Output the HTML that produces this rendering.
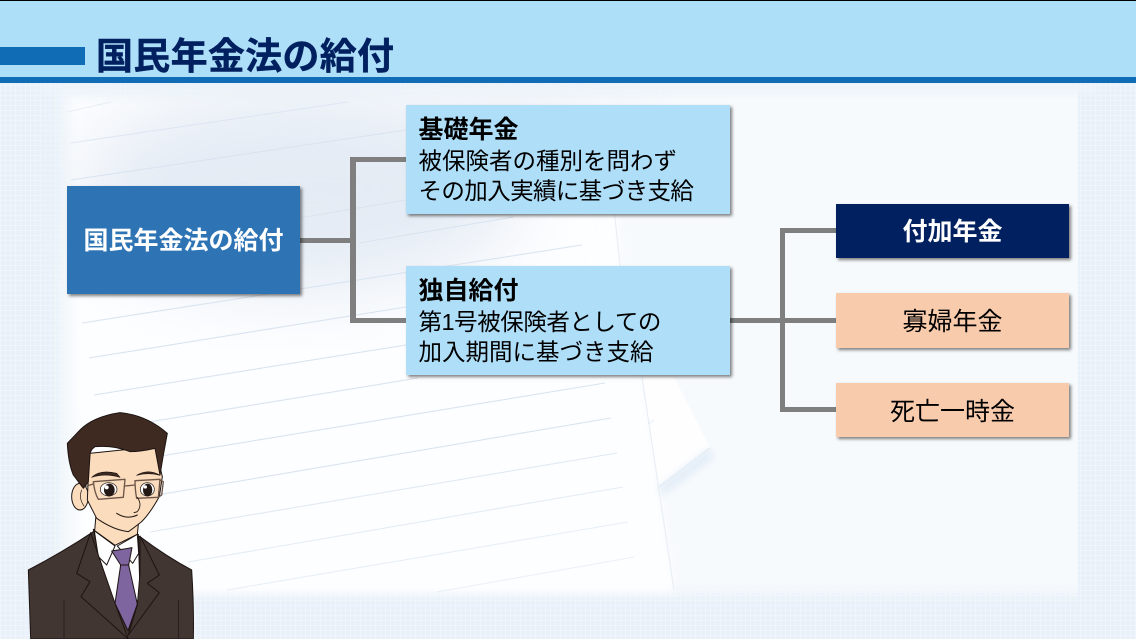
<!DOCTYPE html>
<html lang="ja">
<head>
<meta charset="utf-8">
<title>国民年金法の給付</title>
<style>
html,body{margin:0;padding:0}
body{width:1136px;height:639px;overflow:hidden;position:relative;background:#e9f2f9;font-family:"Liberation Sans","Noto Sans CJK JP",sans-serif}
svg{position:absolute;left:0;top:0}
.box{position:absolute;box-sizing:border-box;box-shadow:2px 2px 3px rgba(0,0,0,.5)}
.c{display:flex;align-items:center;justify-content:center;font-size:25px;line-height:1}
.t{font-size:23.5px;line-height:30.5px;color:#000;padding:10px 0 0 12.5px;white-space:nowrap}
.t b{font-size:25px}
.ln{position:absolute;background:#7f7f7f}
</style>
</head>
<body>
<svg width="1136" height="639" viewBox="0 0 1136 639">
  <defs>
    <pattern id="g" width="5" height="5" patternUnits="userSpaceOnUse">
      <rect width="5" height="5" fill="#e8f1f9"/>
      <path d="M0 .5H5M.5 0V5" stroke="#eff5fa" stroke-width="1"/>
    </pattern>
    <filter id="bl" x="-30%" y="-30%" width="160%" height="160%"><feGaussianBlur stdDeviation="40"/></filter>
    <filter id="bl2" x="-10%" y="-10%" width="120%" height="120%"><feGaussianBlur stdDeviation="6"/></filter>
    <filter id="bl3" x="-30%" y="-30%" width="160%" height="160%"><feGaussianBlur stdDeviation="4"/></filter>
    <clipPath id="inner"><rect x="40" y="84" width="1038" height="518"/></clipPath>
  </defs>
  <rect width="1136" height="639" fill="url(#g)"/>
  <g clip-path="url(#inner)">
    <rect x="62" y="92" width="1040" height="500" fill="#f7fafd" filter="url(#bl2)"/>
    <!-- sheet -->
    <path d="M72 100L612 100L620 265L642 377L674 592L80 592Z" fill="#fdfeff" filter="url(#bl3)"/>
    <path d="M642 377L674 377L710 448L659 487L668 540Z" fill="#fefeff"/>
    <path d="M659 487L710 448L714 458L662 496Z" fill="#c9dcef" opacity=".45" filter="url(#bl3)"/>
    <path d="M659 487L710 448" stroke="#e6eff8" stroke-width="2" fill="none"/>
    <!-- grey tone in upper-middle -->
    <ellipse cx="300" cy="190" rx="220" ry="100" fill="#e4ebf4" filter="url(#bl)"/>
    <ellipse cx="530" cy="120" rx="100" ry="35" fill="#ebf0f7" filter="url(#bl)"/>
    <path d="M612 190L620 265L642 377L674 590" fill="none" stroke="#eaeff6" stroke-width="1.2"/>
    <g fill="none" stroke="#d9e4f0" stroke-width="1.1">
      <path d="M67 112L111 102" opacity=".5"/>
      <path d="M71 143L348 102" opacity=".8"/>
      <path d="M71 180L406 130"/>
      <path d="M299 218L406 200"/>
      <path d="M359 243L513 217"/>
      <path d="M82 323L582 245"/>
      <path d="M89 358L406 307"/>
      <path d="M94 395L406 345"/>
      <path d="M100 430L418 378"/>
      <path d="M100 466L605 383"/>
      <path d="M110 503L611 418"/>
      <path d="M150 532L617 453" opacity=".8"/>
      <path d="M188 562L623 487" opacity=".7"/>
      <path d="M227 590L628 522" opacity=".6"/>
      <path d="M437 592L634 557" opacity=".5"/>
      <path d="M648 424L654 420" opacity=".6"/>
    </g>
  </g>
  <rect x="40" y="84" width="1060" height="10" fill="#eff5fa" opacity=".7" filter="url(#bl3)"/>
  <!-- header -->
  <rect width="1136" height="77" fill="#aedff9"/>
  <rect width="1136" height="1" fill="#000"/>
  <rect y="77" width="1136" height="6" fill="#0f6cb5"/>
  <rect y="47" width="85" height="18" fill="#0f6cb5"/>
  <!-- character -->
  <g transform="translate(0,400) scale(.33333)" stroke="#1d1412" stroke-width="3" stroke-linejoin="round" stroke-linecap="round">
    <path d="M85 510Q190 455 280 395L420 410Q500 470 575 510Q582 620 580 717L92 717Q88 600 85 510Z" fill="#423632"/>
    <path d="M280 388L415 403L420 580L385 692L340 600L300 480Z" fill="#fff"/>
    <path d="M288 345L284 392L345 436L412 403L418 345Z" fill="#fbdcbc"/>
    <path d="M283 392L345 438L320 495L295 470Z" fill="#fff"/>
    <path d="M412 403L352 438L398 490L416 460Z" fill="#fff"/>
    <path d="M335 453L396 443L386 495L362 495Z" fill="#7f659f"/>
    <path d="M362 495L386 495L412 612L384 692L345 610Z" fill="#7f659f"/>
    <path d="M272 398L230 520L270 545L243 590L385 717L345 610L300 480Z" fill="#423632"/>
    <path d="M420 408L478 525L442 550L478 578L385 705L412 615L420 520Z" fill="#423632"/>
    <ellipse cx="240" cy="290" rx="25" ry="40" fill="#fbdcbc"/>
    <path d="M245 270Q235 295 252 318" fill="none" stroke-width="2"/>
    <path d="M268 160L465 140L487 230L478 290Q450 340 425 365Q400 385 385 395Q340 390 290 355L262 300Z" fill="#fbdcbc"/>
    <path d="M202 130L240 90Q280 50 360 38Q440 45 502 100L490 165L480 225L465 145Q420 155 390 155Q340 135 285 140Q270 150 270 165L265 245L250 265L220 225Q205 190 202 130Z" fill="#3f2a22"/>
    <path d="M275 232Q300 208 350 220L360 232Q315 218 275 232Z" fill="#3f2a22" stroke-width="2"/>
    <path d="M410 226Q445 205 480 226Q445 216 410 226Z" fill="#3f2a22" stroke-width="2"/>
    <ellipse cx="326" cy="268" rx="25" ry="20" fill="#fff" stroke-width="2"/>
    <ellipse cx="442" cy="268" rx="21" ry="20" fill="#fff" stroke-width="2"/>
    <ellipse cx="328" cy="270" rx="16" ry="19" fill="#241815" stroke="none"/>
    <ellipse cx="443" cy="270" rx="14" ry="19" fill="#241815" stroke="none"/>
    <circle cx="320" cy="262" r="6" fill="#fff" stroke="none"/>
    <circle cx="436" cy="261" r="5" fill="#fff" stroke="none"/>
    <g fill="none" stroke="#6d5648" stroke-width="4">
      <path d="M280 245L375 238L370 292L295 298Q284 280 280 245Z"/>
      <path d="M405 242L480 238L475 292L410 295Q405 270 405 242Z"/>
      <path d="M375 258L405 255M280 252L260 258M480 240L490 245L485 285L475 292"/>
    </g>
    <path d="M412 292Q428 315 412 335L402 338" fill="none" stroke-width="2.5"/>
    <path d="M350 340Q380 360 412 345" fill="none" stroke-width="3"/>
    <path d="M192 600V717M535 600V717" fill="none" stroke-width="2"/>
  </g>
  <!-- title -->
  <text x="96" y="69" font-size="37" font-weight="700" fill="#002060" stroke="#002060" stroke-width=".4" font-family="'Liberation Sans','Noto Sans CJK JP',sans-serif" textLength="298" lengthAdjust="spacing">国民年金法の給付</text>
</svg>

<div class="ln" style="left:300px;top:238px;width:52px;height:5px"></div>
<div class="ln" style="left:350px;top:157px;width:6px;height:166px"></div>
<div class="ln" style="left:350px;top:157px;width:57px;height:5px"></div>
<div class="ln" style="left:350px;top:318px;width:57px;height:5px"></div>
<div class="ln" style="left:729px;top:318px;width:108px;height:5px"></div>
<div class="ln" style="left:780px;top:228px;width:5px;height:184px"></div>
<div class="ln" style="left:780px;top:228px;width:57px;height:5px"></div>
<div class="ln" style="left:780px;top:407px;width:57px;height:5px"></div>

<div class="box c" style="left:67px;top:186px;width:233px;height:108px;padding-top:2px;background:#2e74b5;color:#fff;font-weight:700">国民年金法の給付</div>
<div class="box t" style="left:406px;top:105px;width:324px;height:109px;background:#afdef9"><b>基礎年金</b><br>被保険者の種別を問わず<br><span style="letter-spacing:-.6px">その加入実績に基づき支給</span></div>
<div class="box t" style="left:406px;top:266px;width:324px;height:109px;background:#afdef9"><b>独自給付</b><br><span style="letter-spacing:-.45px">第1号被保険者としての</span><br>加入期間に基づき支給</div>
<div class="box c" style="left:836px;top:204px;width:233px;height:54px;padding-top:2px;background:#002060;color:#fff;font-weight:700">付加年金</div>
<div class="box c" style="left:836px;top:293px;width:233px;height:55px;padding-top:4px;background:#f8cbad;color:#000">寡婦年金</div>
<div class="box c" style="left:836px;top:383px;width:233px;height:54px;padding-top:4px;background:#f8cbad;color:#000">死亡一時金</div>
</body>
</html>
